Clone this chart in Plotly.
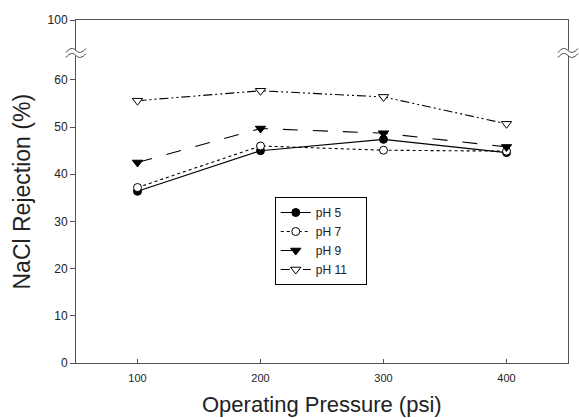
import plotly.graph_objects as go

pressure = [100, 200, 300, 400]
ph5 = [36.4, 45.0, 47.4, 44.6]
ph7 = [37.2, 46.0, 45.1, 44.9]
ph9 = [42.5, 49.7, 48.7, 45.8]
ph11 = [55.6, 57.7, 56.4, 50.7]
series_names = ["pH 5", "pH 7", "pH 9", "pH 11"]

y_top = 72.7  # axis position where the "100" label sits after the break
y_break = 65.7
ytick_vals = [0, 10, 20, 30, 40, 50, 60, y_top]
ytick_text = ["0", "10", "20", "30", "40", "50", "60", "100"]

styles = [
    dict(dash="solid", symbol="circle", fill="black"),
    dict(dash="dot", symbol="circle", fill="white"),
    dict(dash="longdash", symbol="triangle-down", fill="black"),
    dict(dash="9px,3px,2px,3px,2px,3px", symbol="triangle-down", fill="white"),
]

pad = "\u00a0" * 4  # widen legend box like the reference

fig = go.Figure()
for name, vals, st in zip(series_names, [ph5, ph7, ph9, ph11], styles):
    sym = st["symbol"]
    fig.add_trace(go.Scatter(
        x=pressure, y=vals, name=name + pad, mode="lines+markers",
        line=dict(color="black", width=1.1, dash=st["dash"]),
        marker=dict(symbol=sym, size=8 if sym == "circle" else 9,
                    color=st["fill"], line=dict(color="black", width=1)),
    ))

font = "Liberation Sans, Arial, sans-serif"
fig.update_layout(
    width=579, height=418,
    margin=dict(l=76, r=11, t=20, b=55),
    paper_bgcolor="white", plot_bgcolor="white",
    font=dict(family=font, color="#222", size=11),
    showlegend=True,
    legend=dict(x=0.404, y=0.484, xanchor="left", yanchor="top",
                bordercolor="black", borderwidth=1, bgcolor="white",
                font=dict(size=12, family=font), tracegroupgap=0,
                itemwidth=30),
    xaxis=dict(range=[50, 450], tickvals=pressure, ticks="inside", ticklen=4,
               tickcolor="#555", tickfont=dict(size=11), ticklabelstandoff=5,
               showline=True, linecolor="#555", linewidth=1, mirror=True,
               showgrid=False, zeroline=False, automargin=False),
    yaxis=dict(range=[0, y_top], tickvals=ytick_vals, ticktext=ytick_text,
               ticks="outside", ticklen=5, tickcolor="#555", tickfont=dict(size=12),
               showline=True, linecolor="#555", linewidth=1, mirror=True,
               showgrid=False, zeroline=False, automargin=False),
)

# axis titles
fig.add_annotation(text="Operating Pressure (psi)", xref="paper", yref="paper",
                   x=0.5, y=0, yshift=-41, xanchor="center", yanchor="middle",
                   showarrow=False, font=dict(size=22, family=font, color="#222"))
fig.add_annotation(text="NaCl Rejection (%)", xref="paper", yref="paper",
                   x=0, y=0.5, xshift=-55, xanchor="center", yanchor="middle",
                   textangle=-90, showarrow=False,
                   font=dict(size=23, family=font, color="#222"))

# axis break marks on both vertical axes
for xa in [0, 1]:
    fig.add_shape(type="path", xref="paper", yref="y", xanchor=xa, yanchor=y_break,
                  xsizemode="pixel", ysizemode="pixel",
                  path="M-2,-3 L2,-3 L2,3 L-2,3 Z",
                  fillcolor="white", line=dict(width=0), layer="above")
    for dy in [-2.5, 2.5]:
        fig.add_shape(type="path", xref="paper", yref="y", xanchor=xa, yanchor=y_break,
                      xsizemode="pixel", ysizemode="pixel",
                      path=f"M-10,{dy-2} C-6,{dy+3} -3,{dy+3} 0,{dy} S6,{dy-2.5} 10,{dy+2}",
                      line=dict(color="#444", width=1), layer="above")

fig.write_html("out.html", config={"displayModeBar": False},
               post_script="document.body.style.margin='0';document.body.style.overflow='hidden';")
